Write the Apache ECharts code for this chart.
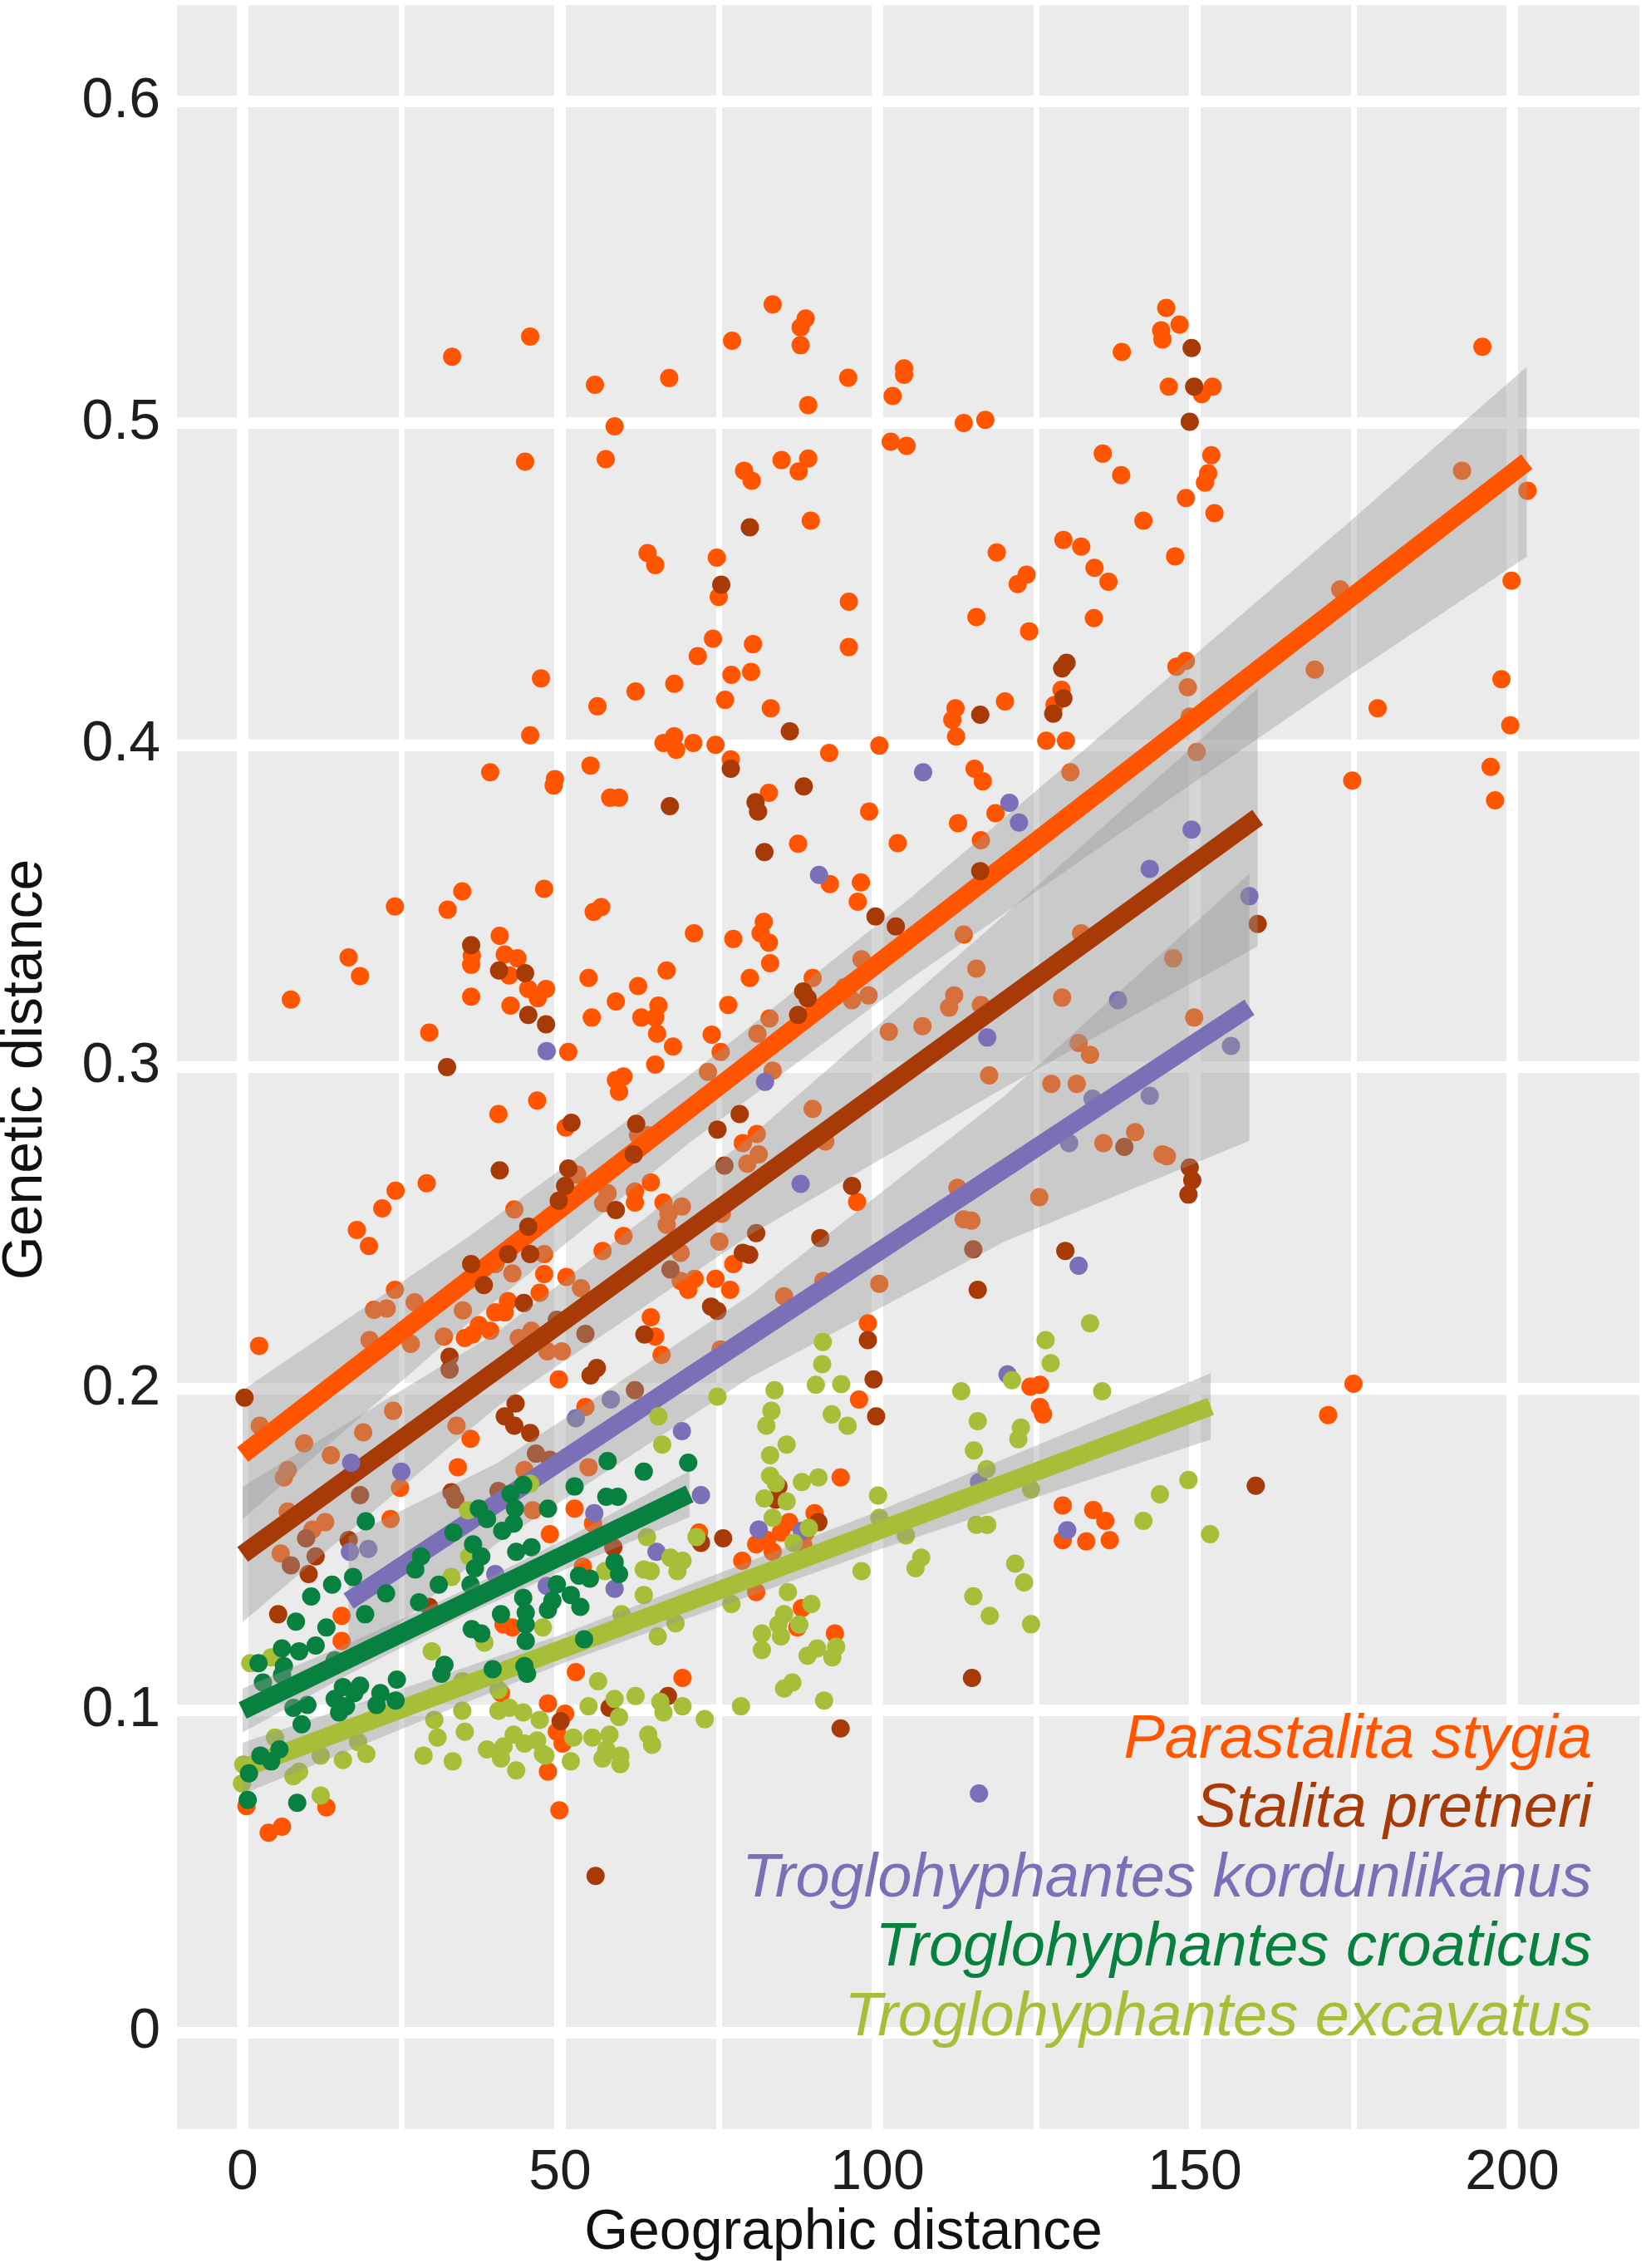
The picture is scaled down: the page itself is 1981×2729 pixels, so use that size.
<!DOCTYPE html>
<html>
<head>
<meta charset="utf-8">
<script src="https://cdn.jsdelivr.net/npm/echarts@6/dist/echarts.min.js"></script>
<style>
html,body{margin:0;padding:0;background:#ffffff;}
#chart{width:1981px;height:2729px;}
</style>
</head>
<body>
<div id="chart"></div>
<script>
// ---------------- DATA ----------------
const speciesNames = ['Parastalita stygia','Stalita pretneri','Troglohyphantes kordunlikanus','Troglohyphantes excavatus','Troglohyphantes croaticus'];
const legendOrder = ['Parastalita stygia','Stalita pretneri','Troglohyphantes kordunlikanus','Troglohyphantes croaticus','Troglohyphantes excavatus'];

// Parastalita stygia  [geographic distance, genetic distance]
const stygiaPoints = [
[33.0,0.5206],[45.3,0.5269],[55.5,0.5119],[67.2,0.514],[58.6,0.499],[44.5,0.488],[57.2,0.4888],[63.8,0.4596],[65.0,0.4559],[47.0,0.4207],[55.9,0.412],[61.9,0.4166],[68.0,0.419],[45.3,0.403],[39.0,0.3915],[49.2,0.3894],[49.0,0.3874],[54.8,0.3936],[57.9,0.3836],[59.3,0.3836],[66.3,0.4006],[68.0,0.4027],[68.3,0.3985],[71.0,0.4006],[74.5,0.400],
[83.5,0.5369],[77.1,0.5256],[88.7,0.5325],[87.9,0.5297],[87.9,0.5242],[95.4,0.5141],[89.1,0.5056],[104.2,0.517],[104.2,0.515],[102.4,0.5084],[113.6,0.50],[117.0,0.501],[102.1,0.4942],[104.6,0.4929],[138.5,0.5221],[135.5,0.4905],[138.4,0.4838],[141.9,0.4697],[79.0,0.4852],[80.2,0.4821],[84.9,0.4885],[89.1,0.489],[87.6,0.485],[89.5,0.4697],[74.7,0.4582],[75.0,0.446],[95.5,0.4445],[95.5,0.4304],[74.1,0.433],[71.7,0.4276],[80.4,0.4313],[77.0,0.4218],[80.1,0.4227],[76.0,0.414],[83.2,0.4114],[92.4,0.3975],[100.3,0.3998],[76.9,0.3955],[82.9,0.3851],[87.5,0.3693],[98.7,0.3793],[103.2,0.3695],[112.3,0.4114],[111.8,0.4078],[112.4,0.4026],[120.1,0.4135],[115.3,0.3926],[116.6,0.3887],[118.6,0.3788],[112.7,0.3757],[116.3,0.3704],[118.8,0.4598],[123.5,0.4529],[122.1,0.45],[115.6,0.4397],[123.9,0.4353],[129.3,0.4637],[132.1,0.4616],[134.2,0.455],[136.4,0.4507],[134.1,0.4394],[129.0,0.4171],[127.9,0.4124],[126.6,0.4013],[129.7,0.4013],[130.4,0.3915],
[145.5,0.5358],[147.6,0.5306],[144.7,0.5288],[144.9,0.526],[145.9,0.5113],[151.1,0.509],[152.8,0.5113],[152.6,0.49],[152.1,0.4844],[151.6,0.4815],[148.6,0.4767],[153.1,0.472],[146.9,0.4586],[195.3,0.5237],[192.1,0.4852],[202.4,0.479],[199.9,0.451],[172.9,0.4483],[168.9,0.4234],[178.8,0.4114],[198.3,0.4204],[199.7,0.4061],[196.6,0.3932],[197.3,0.3828],[174.8,0.3889],[147.1,0.4243],[148.6,0.4261],[148.9,0.4179],[149.2,0.4088],[150.3,0.3978],
[24.0,0.3498],[34.6,0.3545],[32.3,0.3488],[47.5,0.3553],[55.3,0.3481],[56.5,0.3496],[16.7,0.334],[18.5,0.3282],[7.6,0.3209],[40.5,0.3407],[36.1,0.3345],[36.0,0.3317],[41.3,0.3349],[43.3,0.3337],[42.0,0.3284],[45.0,0.3242],[47.8,0.3242],[46.5,0.3213],[42.2,0.319],[36.0,0.3218],[29.4,0.3106],[51.3,0.3046],[54.5,0.3276],[55.0,0.3153],[58.8,0.3203],[62.3,0.3251],[66.8,0.3299],[65.5,0.319],[62.8,0.3153],[65.0,0.3153],[65.3,0.3103],[67.8,0.3063],[65.0,0.3007],[58.8,0.2959],[60.0,0.297],[59.3,0.2922],[46.4,0.2895],[40.3,0.2853],[50.9,0.2811],[52.7,0.2665],[62.3,0.2788],[63.8,0.2788],[29.0,0.2638],[24.1,0.2615],[22.0,0.256],[18.0,0.2493],[19.9,0.2443],[42.8,0.2557],[56.8,0.2576],[57.5,0.2607],[61.8,0.2612],[64.3,0.2641],[61.8,0.2578],[66.3,0.2578],[67.1,0.2543],[66.8,0.2509],[60.0,0.2474],[56.7,0.2428],[47.5,0.2418],[24.0,0.2307],[20.7,0.2245],[22.7,0.2249],[27.1,0.2268],[39.8,0.2387],[42.5,0.2358],[47.5,0.2356],[51.0,0.2347],[53.3,0.2312],[46.8,0.2298],[34.7,0.2243],[41.8,0.2272],[39.8,0.2237],[41.3,0.2237],[37.2,0.2197],[39.0,0.218],[36.2,0.2168],[35.0,0.2157],[31.7,0.2162],[20.0,0.2151],[26.5,0.2139],[64.3,0.2222],[65.0,0.2162],[66.0,0.2105],[43.5,0.2157],[45.5,0.218],[48.0,0.2116],[50.3,0.2116],[49.8,0.2029],[54.0,0.1943],[2.6,0.2133],[2.7,0.1885],[23.7,0.1931],[19.0,0.1864],[33.7,0.1885],
[92.5,0.3568],[97.4,0.3573],[96.9,0.3513],[71.1,0.3415],[77.3,0.3397],[82.1,0.345],[81.6,0.3415],[82.9,0.3386],[83.1,0.3322],[79.9,0.3276],[89.8,0.3276],[76.5,0.3192],[83.0,0.315],[73.9,0.31],[75.3,0.3046],[81.1,0.3103],[73.3,0.2984],[83.5,0.2988],[97.5,0.3334],[94.8,0.3247],[98.6,0.3222],[96.0,0.3207],[113.6,0.3411],[115.6,0.3305],[112.1,0.3222],[111.3,0.3184],[116.3,0.3192],[101.8,0.3109],[107.1,0.3126],[132.1,0.3415],[129.1,0.3215],[131.7,0.3074],[133.5,0.3037],[117.6,0.2973],[127.4,0.2947],[131.4,0.2947],[140.6,0.2797],[135.6,0.2763],[144.9,0.2728],[89.8,0.2869],[81.0,0.2791],[78.8,0.2763],[81.3,0.2728],[79.5,0.2699],[91.8,0.2768],[96.8,0.258],[69.2,0.2566],[75.5,0.2543],[112.6,0.2624],[113.6,0.2526],[114.8,0.2522],[125.5,0.2595],[75.1,0.2457],[77.3,0.2387],[69.0,0.2422],[69.0,0.2335],[71.2,0.2341],[70.2,0.2307],[74.5,0.2341],[76.8,0.2307],[85.3,0.2287],[91.5,0.2335],[100.3,0.2326],[98.5,0.2203],[75.3,0.2122],[97.1,0.1966],[124.1,0.2006],[125.6,0.2012],[125.6,0.1943],[126.1,0.192],
[146.6,0.3337],[149.9,0.3153],[145.6,0.2722],[175.0,0.2015],[171.0,0.1918],
[9.7,0.183],[13.9,0.1793],[7.1,0.1747],[6.5,0.1724],[23.3,0.1595],[24.8,0.1692],[13.0,0.1585],[11.0,0.1562],[6.0,0.1488],[7.1,0.1618],[15.6,0.1294],[15.6,0.1216],[33.9,0.1756],[35.9,0.1844],[44.4,0.1747],[45.7,0.1622],[41.1,0.1267],[42.5,0.1258],[40.7,0.1054],[48.1,0.1022],[48.1,0.081],[4.1,0.062],[6.2,0.0639],[13.2,0.0699],[0.6,0.0703],
[94.2,0.1724],[71.9,0.1553],[78.7,0.1465],[80.9,0.1516],[82.6,0.153],[83.5,0.1493],[86.1,0.1585],[84.8,0.1553],[88.3,0.1516],[90.1,0.1613],[88.7,0.1553],[80.9,0.1368],[88.1,0.1318],[87.4,0.1258],[93.3,0.1239],[52.5,0.1119],[69.3,0.1101],[50.8,0.099],[49.5,0.0934],[50.4,0.0897],[49.9,0.069],[53.6,0.1447],[54.5,0.1756],[52.3,0.1627],[48.4,0.1548],[55.2,0.1581],
[129.2,0.1637],[134.0,0.1623],[135.9,0.1589],[129.2,0.1529],[132.9,0.1525],[136.6,0.1529]
];

// Stalita pretneri
const pretneriPoints = [
[67.3,0.381],[79.9,0.4676],[75.4,0.4498],[86.2,0.4042],[76.9,0.3926],[80.8,0.3822],[81.2,0.3793],[88.4,0.3871],[82.2,0.3667],[116.2,0.4094],[129.8,0.4255],[129.1,0.4238],[129.3,0.4145],[127.7,0.4097],
[149.5,0.5233],[149.9,0.5113],[149.2,0.5004],
[36.0,0.3378],[40.4,0.3299],[44.5,0.3291],[45.0,0.3161],[47.8,0.3132],[32.2,0.2999],[51.8,0.2826],[62.0,0.2823],[40.5,0.2678],[51.3,0.2684],[50.8,0.263],[49.8,0.2584],[61.6,0.2728],[58.8,0.2555],[45.0,0.2503],[41.8,0.2418],[45.3,0.2418],[36.0,0.2387],[38.0,0.2322],[44.3,0.2266],[32.6,0.2099],[32.6,0.2059],[63.3,0.2168],[54.0,0.217],[49.5,0.2214],[55.8,0.2064],[54.8,0.2041],[61.8,0.1995],[0.3,0.1972],[43.0,0.1954],[41.3,0.1914],[45.3,0.1862],[42.8,0.1885],
[99.7,0.3467],[102.9,0.3436],[116.2,0.3608],[88.3,0.3234],[89.0,0.3213],[87.5,0.3161],[78.3,0.2853],[74.8,0.2805],[75.9,0.2693],[138.9,0.2751],[96.0,0.263],[115.1,0.2433],[80.9,0.2483],[91.0,0.2468],[78.8,0.2422],[79.8,0.2416],[67.4,0.237],[73.8,0.2255],[74.8,0.2241],[129.6,0.2428],[115.8,0.2307],[98.5,0.2151],[99.4,0.2029],[99.8,0.1914],
[159.9,0.3444],[149.2,0.2687],[149.6,0.2647],[149.0,0.2603],
[18.5,0.1669],[16.7,0.153],[5.6,0.1299],[32.9,0.1678],[33.5,0.1655],[40.3,0.1682],[46.2,0.1798],[29.4,0.1322],[10.0,0.1535],[11.5,0.1479],[7.6,0.1451],[10.4,0.1424],
[84.4,0.1696],[84.0,0.1655],[75.7,0.1535],[72.2,0.1521],[90.7,0.1585],[67.0,0.1045],[57.8,0.1008],[50.1,0.0967],[94.2,0.0944],[55.6,0.0486],[58.4,0.1507],[48.4,0.1779],
[159.6,0.1698],[114.9,0.1101]
];

// Troglohyphantes kordunlikanus
const kordunlikanusPoints = [
[107.2,0.3915],[120.8,0.382],[122.3,0.3759],[149.5,0.3737],[47.9,0.3049],[58.0,0.1966],[52.5,0.1908],
[90.8,0.3596],[142.9,0.3615],[117.3,0.3091],[137.9,0.3207],[133.9,0.2901],[142.9,0.291],[130.2,0.2763],[82.3,0.2953],[87.9,0.2636],[131.7,0.2382],[120.5,0.2044],[69.2,0.1868],
[158.6,0.353],[155.7,0.3065],
[17.1,0.177],[25.0,0.1742],[16.9,0.1493],[19.8,0.1502],[39.8,0.1424],
[72.2,0.1669],[55.4,0.1613],[65.2,0.1493],[58.6,0.1378],[81.3,0.1562],[88.1,0.1558],[47.9,0.1387],
[116.0,0.171],[129.9,0.156],[116.0,0.0742]
];

// Troglohyphantes excavatus
const excavatusPoints = [
[65.5,0.1914],
[133.5,0.2203],[126.5,0.2151],[127.3,0.2079],[91.4,0.2145],[91.3,0.2076],[90.3,0.2012],[94.3,0.2014],[83.8,0.1995],[74.8,0.1975],[113.2,0.1992],[121.2,0.2026],[135.4,0.1992],[83.3,0.1931],[82.5,0.1885],[92.8,0.192],[95.3,0.1885],[115.8,0.1899],[122.6,0.1879],
[45.3,0.1705],[35.5,0.1622],[32.9,0.1415],[35.7,0.1479],[29.8,0.1184],[1.2,0.1147],[4.5,0.1165],[47.3,0.1258],[38.1,0.1211],[34.6,0.1091],[34.6,0.0999],[30.2,0.0971],[30.7,0.0916],[35.0,0.0934],[28.5,0.086],[33.1,0.0842],[40.3,0.0999],[42.0,0.1008],[44.2,0.0994],[46.8,0.0971],[38.5,0.0879],[41.1,0.0888],[42.7,0.0925],[44.4,0.0897],[40.7,0.0851],[43.1,0.0814],[46.4,0.0907],[47.3,0.0865],[40.3,0.1064],[19.5,0.0865],[15.8,0.0846],[12.3,0.086],[8.9,0.081],[8.0,0.0796],[5.1,0.0916],[0.1,0.0832],[-0.1,0.0773],[12.3,0.0736],[16.7,0.0944],[18.2,0.0902],
[66.1,0.1826],[85.7,0.1826],[83.1,0.1793],[83.1,0.1729],[84.0,0.1706],[88.1,0.171],[90.7,0.1724],[82.2,0.1659],[85.7,0.165],[83.5,0.1599],[89.2,0.1567],[86.8,0.1521],[100.1,0.1668],[100.3,0.1599],[104.5,0.1544],[106.9,0.1475],[106.0,0.1442],[97.5,0.1433],[71.5,0.1539],[63.7,0.1539],[67.4,0.1475],[69.3,0.1465],[63.2,0.1438],[64.3,0.1433],[68.5,0.1433],[57.1,0.1433],[63.2,0.1359],[59.7,0.1299],[68.2,0.1271],[65.4,0.123],[77.0,0.1331],[85.9,0.1368],[89.6,0.1331],[85.3,0.1299],[84.4,0.1267],[84.8,0.123],[87.7,0.1267],[81.8,0.1239],[81.8,0.1188],[89.0,0.117],[90.5,0.1193],[92.9,0.1165],[93.5,0.1198],[85.3,0.1068],[86.6,0.1087],[91.6,0.1031],[78.5,0.1013],[72.8,0.0973],[56.0,0.1091],[54.5,0.1013],[58.6,0.1036],[59.3,0.098],[61.9,0.1045],[65.8,0.1027],[66.3,0.0994],[69.3,0.1013],[47.7,0.086],[52.1,0.0916],[51.7,0.0842],[55.1,0.0916],[57.8,0.0925],[57.3,0.0879],[56.7,0.0851],[59.5,0.086],[59.5,0.0833],[63.9,0.0925],[64.5,0.0893],
[115.2,0.1808],[117.2,0.175],[124.2,0.1687],[115.6,0.1577],[117.3,0.1577],[144.5,0.1672],[149.0,0.1716],[141.9,0.1589],[152.4,0.1548],[121.7,0.1456],[123.1,0.1398],[115.1,0.1355],[117.7,0.1294],[124.2,0.1268],[122.2,0.1843]
];

// Troglohyphantes croaticus
const croaticusPoints = [
[19.4,0.1588],[33.2,0.1553],[28.1,0.1479],[27.2,0.1438],[22.6,0.1364],[30.9,0.1391],[37.2,0.1627],[38.5,0.1595],[36.3,0.1516],[37.6,0.1479],[36.6,0.1442],[35.9,0.1391],[40.9,0.1558],[42.2,0.1673],[44.2,0.1701],[42.9,0.1627],[42.7,0.1581],[48.1,0.1627],[43.1,0.1493],[45.5,0.1507],[44.2,0.135],[44.6,0.1304],[44.6,0.1267],[48.1,0.1313],[40.7,0.1299],[36.1,0.1253],[37.6,0.1239],[44.6,0.1216],[44.4,0.1138],[44.8,0.1114],[39.4,0.1128],[31.8,0.1142],[31.3,0.1114],[27.8,0.1336],[19.3,0.1299],[17.4,0.1415],[14.1,0.1391],[10.8,0.1354],[8.4,0.1276],[13.2,0.1258],[6.2,0.1193],[8.9,0.1184],[11.5,0.1202],[6.5,0.1138],[6.2,0.111],[2.5,0.1147],[3.2,0.1087],[14.5,0.1156],[24.3,0.1096],[24.1,0.1031],[21.7,0.1054],[21.1,0.1017],[15.8,0.1073],[17.6,0.1054],[18.5,0.1077],[14.5,0.1036],[16.3,0.1013],[15.2,0.0994],[10.2,0.1017],[8.0,0.1008],[9.3,0.0957],[2.8,0.086],[4.5,0.0842],[5.8,0.0879],[1.0,0.0805],[0.8,0.0722],[8.6,0.0713],
[57.5,0.1775],[63.2,0.1742],[70.2,0.177],[52.3,0.1696],[57.3,0.1664],[59.1,0.1664],[58.6,0.1461],[59.3,0.1424],[53.0,0.1419],[54.7,0.141],[49.5,0.1392],[51.7,0.1359],[48.8,0.1341],[53.2,0.1322],[53.8,0.1221]
];

// Linear fits (endpoints) and confidence bands
const stygiaFitX = [0, 202.3];
const stygiaFitY = [0.1795, 0.4880];
const stygiaBandX  = [0, 35, 70, 105, 140, 175, 202.3];
const stygiaBandLo = [0.1595, 0.2194, 0.2758, 0.3271, 0.3750, 0.4224, 0.4585];
const stygiaBandHi = [0.1995, 0.2464, 0.2968, 0.3521, 0.4110, 0.4704, 0.5175];

const pretneriFitX = [0, 159.9];
const pretneriFitY = [0.1485, 0.3775];
const pretneriBandX  = [0, 40, 80, 120, 159.9];
const pretneriBandLo = [0.1275, 0.1942, 0.2479, 0.2935, 0.3375];
const pretneriBandHi = [0.1695, 0.2174, 0.2783, 0.3471, 0.4175];

const kordunlikanusFitX = [16.7, 158.6];
const kordunlikanusFitY = [0.1340, 0.3185];
const kordunlikanusBandX  = [16.7, 40, 80, 120, 158.6];
const kordunlikanusBandLo = [0.1140, 0.1519, 0.2035, 0.2457, 0.2770];
const kordunlikanusBandHi = [0.1540, 0.1767, 0.2291, 0.2909, 0.3600];

const excavatusFitX = [0, 152.5];
const excavatusFitY = [0.0820, 0.1945];
const excavatusBandX  = [0, 50, 100, 152.5];
const excavatusBandLo = [0.0740, 0.1144, 0.1498, 0.1842];
const excavatusBandHi = [0.0900, 0.1234, 0.1618, 0.2048];

const croaticusFitX = [0, 70.4];
const croaticusFitY = [0.1000, 0.1673];
const croaticusBandX  = [0, 17, 35, 52, 70.4];
const croaticusBandLo = [0.0932, 0.1115, 0.1295, 0.1449, 0.1601];
const croaticusBandHi = [0.1068, 0.1211, 0.1375, 0.1545, 0.1745];

// ---------------- STYLE ----------------
const speciesColors = {
  'Parastalita stygia': '#FF5500',
  'Stalita pretneri': '#A83A08',
  'Troglohyphantes kordunlikanus': '#7B70B8',
  'Troglohyphantes croaticus': '#08803F',
  'Troglohyphantes excavatus': '#A6BE38'
};
const FONT = '"Liberation Sans", Arial, Helvetica, sans-serif';

const groups = [
  {name: speciesNames[0], pts: stygiaPoints, fx: stygiaFitX, fy: stygiaFitY, bx: stygiaBandX, lo: stygiaBandLo, hi: stygiaBandHi},
  {name: speciesNames[1], pts: pretneriPoints, fx: pretneriFitX, fy: pretneriFitY, bx: pretneriBandX, lo: pretneriBandLo, hi: pretneriBandHi},
  {name: speciesNames[2], pts: kordunlikanusPoints, fx: kordunlikanusFitX, fy: kordunlikanusFitY, bx: kordunlikanusBandX, lo: kordunlikanusBandLo, hi: kordunlikanusBandHi},
  {name: speciesNames[3], pts: excavatusPoints, fx: excavatusFitX, fy: excavatusFitY, bx: excavatusBandX, lo: excavatusBandLo, hi: excavatusBandHi},
  {name: speciesNames[4], pts: croaticusPoints, fx: croaticusFitX, fy: croaticusFitY, bx: croaticusBandX, lo: croaticusBandLo, hi: croaticusBandHi}
];

const series = [];
groups.forEach(function (g, i) {
  const col = speciesColors[g.name];
  series.push({
    type: 'scatter', name: g.name, data: g.pts, symbol: 'circle', symbolSize: 22,
    itemStyle: {color: col, opacity: 1}, z: 10 + 3 * i, silent: true, animation: false
  });
  const bandData = g.bx.map(function (x, k) { return [x, g.lo[k], g.hi[k]]; });
  series.push({
    type: 'custom', name: g.name + ' band', data: bandData, z: 11 + 3 * i, silent: true, animation: false,
    encode: {x: 0, y: [1, 2]},
    renderItem: function (params, api) {
      if (params.dataIndex !== 0) return null;
      const upper = [], lower = [];
      for (let k = 0; k < g.bx.length; k++) {
        upper.push(api.coord([g.bx[k], g.hi[k]]));
        lower.push(api.coord([g.bx[k], g.lo[k]]));
      }
      return {type: 'polygon', shape: {points: upper.concat(lower.reverse())},
              style: {fill: 'rgba(153,153,153,0.4)', stroke: null}};
    }
  });
  series.push({
    type: 'line', name: g.name + ' fit', data: g.fx.map(function (x, k) { return [x, g.fy[k]]; }),
    symbol: 'none', lineStyle: {color: col, width: 22, cap: 'butt'}, z: 12 + 3 * i,
    silent: true, animation: false
  });
});

const legendGraphics = legendOrder.map(function (n, k) {
  return {
    type: 'text', right: null, x: 1916, y: 2094 + k * 83.5, z: 100,
    style: {text: n, fill: speciesColors[n], font: 'italic 74px ' + FONT, align: 'right', verticalAlign: 'middle'}
  };
});

const chart = echarts.init(document.getElementById('chart'), null, {renderer: 'canvas'});
chart.setOption({
  animation: false,
  backgroundColor: '#ffffff',
  grid: {left: 213, top: 6, width: 1760, height: 2556, show: true, backgroundColor: '#EBEBEB', borderWidth: 0},
  xAxis: {
    type: 'value', min: -10.34, max: 220.03, splitNumber: 5,
    axisLine: {show: false}, axisTick: {show: false},
    axisLabel: {fontSize: 68, fontFamily: FONT, color: '#1E1E1E', margin: 19, showMinLabel: false, showMaxLabel: false},
    splitLine: {show: true, lineStyle: {color: '#FFFFFF', width: 14}, showMinLine: false, showMaxLine: false},
    minorTick: {show: false, splitNumber: 2},
    minorSplitLine: {show: true, lineStyle: {color: '#FFFFFF', width: 7}}
  },
  yAxis: {
    type: 'value', min: -0.0301, max: 0.6299, splitNumber: 6,
    axisLine: {show: false}, axisTick: {show: false},
    axisLabel: {fontSize: 68, fontFamily: FONT, color: '#1E1E1E', margin: 20, showMinLabel: false, showMaxLabel: false},
    splitLine: {show: true, lineStyle: {color: '#FFFFFF', width: 14}, showMinLine: false, showMaxLine: false}
  },
  graphic: [
    {type: 'text', x: 1015, y: 2687, z: 100,
     style: {text: 'Geographic distance', fill: '#111111', font: '68px ' + FONT, align: 'center', verticalAlign: 'middle'}},
    {type: 'text', x: 31, y: 1287, rotation: Math.PI / 2, z: 100,
     style: {text: 'Genetic distance', fill: '#111111', font: '68px ' + FONT, align: 'center', verticalAlign: 'middle'}}
  ].concat(legendGraphics),
  series: series
});
</script>
</body>
</html>
